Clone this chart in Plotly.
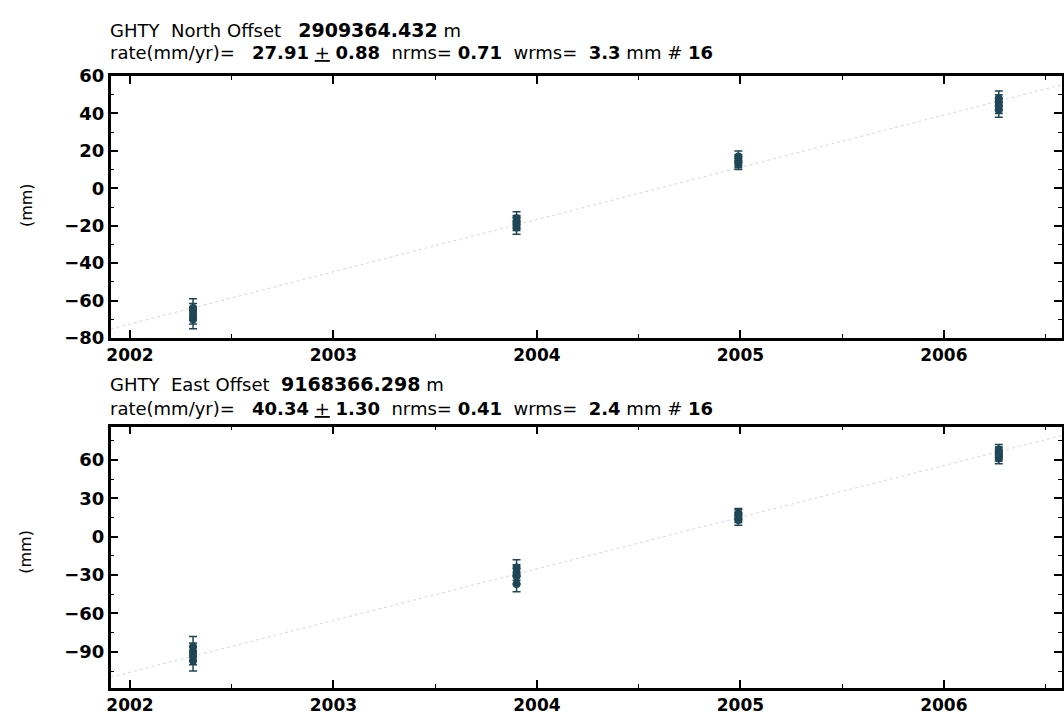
import numpy as np
import plotly.graph_objects as go

# Epochs of the GPS campaigns (decimal years), four solutions per campaign
epoch_years = [2002.31, 2003.90, 2004.99, 2006.27]

# North component residual positions (mm) and 1-sigma errors
north_mm = [
    [-64, -66, -68, -70],
    [-16, -18, -19, -21],
    [13, 14, 15, 17],
    [42, 44, 46, 48],
]
north_err = [
    [5, 4.5, 4.5, 5],
    [3.5, 3.5, 3.5, 3.5],
    [3, 3, 3, 3],
    [4, 4, 4, 4],
]

# East component residual positions (mm) and 1-sigma errors
east_mm = [
    [-86, -90, -93, -97],
    [-24, -28, -31, -37],
    [13, 15, 17, 18],
    [61, 63, 66, 68],
]
east_err = [
    [8, 7, 7, 8],
    [6, 6, 6, 6],
    [4, 4, 4, 4],
    [4, 4, 4, 4],
]

north_rate = 27.91
east_rate = 40.34

SP = "\u00a0"
BIG = '<span style="font-size:19px"><b>{}</b></span>'
north_title = f"GHTY{SP*2}North{SP}Offset{SP*3}{BIG.format('2909364.432')}{SP}m"
north_stats = (f"rate(mm/yr)={SP*3}<b>27.91</b>{SP}<u>+</u>{SP}<b>0.88</b>{SP*2}nrms={SP}"
               f"<b>0.71</b>{SP*2}wrms={SP*2}<b>3.3</b>{SP}mm{SP}#{SP}<b>16</b>")
east_title = f"GHTY{SP*2}East{SP}Offset{SP*2}{BIG.format('9168366.298')}{SP}m"
east_stats = (f"rate(mm/yr)={SP*3}<b>40.34</b>{SP}<u>+</u>{SP}<b>1.30</b>{SP*2}nrms={SP}"
              f"<b>0.41</b>{SP*2}wrms={SP*2}<b>2.4</b>{SP}mm{SP}#{SP}<b>16</b>")

x_ticks = [2002, 2003, 2004, 2005, 2006]
north_ticks = [-80, -60, -40, -20, 0, 20, 40, 60]
east_ticks = [-90, -60, -30, 0, 30, 60]

x_range = [2001.905, 2006.58]
FONT = "DejaVu Sans"
POINT_COLOR = "#1f4656"


def flatten(values):
    return [v for group in values for v in group]


def epoch_x(values):
    return [t for t, group in zip(epoch_years, values) for _ in group]


def trend(values, rate):
    t = np.array(epoch_x(values))
    y = np.array(flatten(values))
    xs = np.array(x_range)
    return xs, y.mean() + rate * (xs - t.mean())


fig = go.Figure()

panels = [
    ("x", "y", north_mm, north_err, north_rate),
    ("x2", "y2", east_mm, east_err, east_rate),
]
for xa, ya, vals, errs, rate in panels:
    tx, ty = trend(vals, rate)
    fig.add_trace(go.Scatter(
        x=tx, y=ty, mode="lines", xaxis=xa, yaxis=ya,
        line=dict(color="#d3d7da", width=1, dash="dot"),
        hoverinfo="skip", showlegend=False,
    ))
    fig.add_trace(go.Scatter(
        x=epoch_x(vals), y=flatten(vals), mode="markers", xaxis=xa, yaxis=ya,
        marker=dict(color=POINT_COLOR, size=8),
        error_y=dict(type="data", array=flatten(errs), color=POINT_COLOR,
                     thickness=1.5, width=4),
        showlegend=False,
    ))

axis_common = dict(
    showline=True, linecolor="black", linewidth=2.5, mirror="allticks",
    ticks="inside", ticklen=8, tickwidth=1.5, tickcolor="black",
    showgrid=False, zeroline=False,
)
x_common = dict(axis_common, range=x_range, tickvals=x_ticks,
                ticktext=[str(v) for v in x_ticks],
                tickfont=dict(family=FONT, size=17, color="black", weight="bold"),
                minor=dict(dtick=0.5, tick0=2002, ticks="inside", ticklen=4,
                           tickcolor="black", tickwidth=1))
y_font = dict(family=FONT, size=18, color="black", weight="bold")

fig.update_layout(
    width=1064, height=722,
    margin=dict(l=0, r=0, t=0, b=0),
    paper_bgcolor="white", plot_bgcolor="white",
    xaxis=dict(x_common, domain=[0.1006, 0.998], anchor="y"),
    yaxis=dict(axis_common, domain=[0.5335, 0.9072], anchor="x",
               range=[-80, 60], tickvals=north_ticks, tickfont=y_font,
               minor=dict(dtick=10, tick0=0, ticks="inside", ticklen=4,
                          tickcolor="black", tickwidth=1)),
    xaxis2=dict(x_common, domain=[0.1006, 0.998], anchor="y2"),
    yaxis2=dict(axis_common, domain=[0.0346, 0.4072], anchor="x2",
                range=[-118, 86], tickvals=east_ticks, tickfont=y_font,
                minor=dict(dtick=15, tick0=0, ticks="inside", ticklen=4,
                           tickcolor="black", tickwidth=1)),
)

text_font = dict(family=FONT, size=18, color="black")
annotations = [
    (north_title, 20), (north_stats, 43),
    (east_title, 384), (east_stats, 409),
]
for text, ypx in annotations:
    fig.add_annotation(
        text=text, xref="paper", yref="paper",
        x=104 / 1064, y=1 - ypx / 722, xanchor="left", yanchor="middle",
        showarrow=False, font=text_font,
    )

for ypx in (200, 557):
    fig.add_annotation(
        text="(mm)", xref="paper", yref="paper",
        x=22 / 1064, y=1 - ypx / 722, xanchor="center", yanchor="middle",
        textangle=-90, showarrow=False,
        font=dict(family=FONT, size=16, color="black"),
    )

fig.write_html("out.html")
